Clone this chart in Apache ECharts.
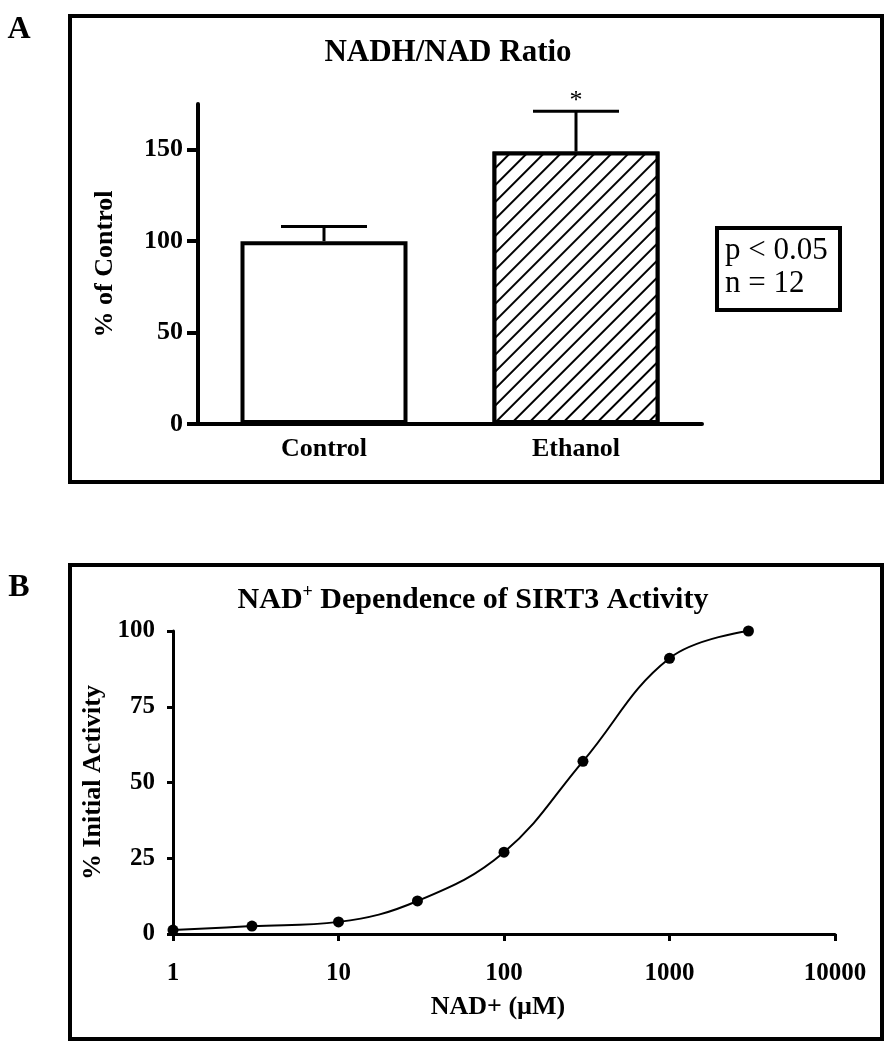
<!DOCTYPE html>
<html><head><meta charset="utf-8">
<script src="https://cdn.jsdelivr.net/npm/echarts@6/dist/echarts.min.js"></script>
<style>html,body{margin:0;padding:0;background:#fff}#c{width:891px;height:1050px}</style>
</head><body><div id="c"></div>
<script>
// ---- Panel A data ----
const groupsA = ['Control', 'Ethanol'];
const meanA = [100, 149];
const errTopA = [108, 171];
const starA = [0, 1];
const yTicksA = [0, 50, 100, 150];
// ---- Panel B data ----
const nadConc = [1, 3, 10, 30, 100, 300, 1000, 3000];
const activity = [1.3, 2.6, 4.0, 10.9, 27, 57, 91, 100];
const yTicksB = [0, 25, 50, 75, 100];

const FF = '"Liberation Serif", "Times New Roman", serif';
const chart = echarts.init(document.getElementById('c'), null, {renderer: 'canvas', width: 891, height: 1050});

const errData = groupsA.map((g, i) => [i, meanA[i], errTopA[i], starA[i]]);

function txt(x, y, text, font, align, valign) {
  return {type: 'text', x: x, y: y, z: 100, style: {text: text, font: font, fill: '#000',
    align: align, textAlign: align, verticalAlign: valign, textVerticalAlign: valign}};
}

const option = {
  animation: false,
  backgroundColor: '#fff',
  grid: [
    {left: 198, top: 104, width: 504, height: 320},
    {left: 173, top: 631, width: 662, height: 303}
  ],
  xAxis: [
    {gridIndex: 0, type: 'category', data: groupsA,
     axisLine: {lineStyle: {color: '#000', width: 4}},
     axisTick: {alignWithLabel: true, length: 9, lineStyle: {color: '#000', width: 4}},
     axisLabel: {color: '#000', fontFamily: FF, fontWeight: 'bold', fontSize: 26, margin: 12},
     splitLine: {show: false}},
    {gridIndex: 1, type: 'log', logBase: 10, min: 1, max: 10000,
     name: 'NAD+ (µM)', nameLocation: 'middle', nameGap: 60,
     nameTextStyle: {color: '#000', fontFamily: FF, fontWeight: 'bold', fontSize: 26, padding: [0, 12, 0, 0]},
     axisLine: {lineStyle: {color: '#000', width: 3}},
     axisTick: {length: 7, lineStyle: {color: '#000', width: 3}},
     minorTick: {show: false},
     axisLabel: {color: '#000', fontFamily: FF, fontWeight: 'bold', fontSize: 25, margin: 27,
       formatter: v => String(Math.round(v))},
     splitLine: {show: false}}
  ],
  yAxis: [
    {gridIndex: 0, type: 'value', min: 0, max: 175, interval: 25,
     name: '% of Control', nameLocation: 'middle', nameGap: 80,
     nameTextStyle: {color: '#000', fontFamily: FF, fontWeight: 'bold', fontSize: 26},
     axisLine: {show: true, lineStyle: {color: '#000', width: 4}},
     axisTick: {show: true, length: 11, customValues: yTicksA, lineStyle: {color: '#000', width: 4}},
     axisLabel: {color: '#000', fontFamily: FF, fontWeight: 'bold', fontSize: 26, margin: 15, customValues: yTicksA},
     splitLine: {show: false}},
    {gridIndex: 1, type: 'value', min: 0, max: 100, interval: 25,
     name: '% Initial Activity', nameLocation: 'middle', nameGap: 64,
     nameTextStyle: {color: '#000', fontFamily: FF, fontWeight: 'bold', fontSize: 26},
     axisLine: {show: true, lineStyle: {color: '#000', width: 3}},
     axisTick: {show: true, length: 6, lineStyle: {color: '#000', width: 3}},
     axisLabel: {color: '#000', fontFamily: FF, fontWeight: 'bold', fontSize: 25, margin: 18},
     splitLine: {show: false}}
  ],
  series: [
    {type: 'bar', xAxisIndex: 0, yAxisIndex: 0, barWidth: 167,
     data: [
       {value: meanA[0], itemStyle: {color: '#fff', borderColor: '#000', borderWidth: 4}},
       {value: meanA[1], itemStyle: {color: '#fff', borderColor: '#000', borderWidth: 4,
         decal: {symbol: 'rect', symbolSize: 1, dashArrayX: [1, 0], dashArrayY: [2, 9.5],
                 rotation: -Math.PI / 4, color: '#000', backgroundColor: '#fff'}}}
     ]},
    {type: 'custom', xAxisIndex: 0, yAxisIndex: 0, z: 5, data: errData,
     renderItem: function (params, api) {
       const i = api.value(0);
       const base = api.coord([i, api.value(1)]);
       const top = api.coord([i, api.value(2)]);
       const half = 43;
       const children = [
         {type: 'line', shape: {x1: base[0], y1: base[1], x2: top[0], y2: top[1]}, style: {stroke: '#000', lineWidth: 3}},
         {type: 'line', shape: {x1: top[0] - half, y1: top[1], x2: top[0] + half, y2: top[1]}, style: {stroke: '#000', lineWidth: 3}}
       ];
       if (api.value(3)) {
         children.push({type: 'text', x: top[0], y: top[1] + 3,
           style: {text: '*', font: '26px ' + FF, fill: '#000', align: 'center', textAlign: 'center',
                   verticalAlign: 'bottom', textVerticalAlign: 'bottom'}});
       }
       return {type: 'group', children: children};
     }},
    {type: 'line', xAxisIndex: 1, yAxisIndex: 1, smooth: 0.4,
     data: nadConc.map((c, i) => [c, activity[i]]),
     symbol: 'circle', symbolSize: 11,
     itemStyle: {color: '#000'},
     lineStyle: {color: '#000', width: 2}}
  ],
  graphic: [
    {type: 'rect', z: -1, shape: {x: 70, y: 16, width: 812, height: 466}, style: {fill: 'none', stroke: '#000', lineWidth: 4}},
    {type: 'rect', z: -1, shape: {x: 70, y: 565, width: 812, height: 474}, style: {fill: 'none', stroke: '#000', lineWidth: 4}},
    {type: 'rect', shape: {x: 717, y: 228, width: 123, height: 82}, style: {fill: '#fff', stroke: '#000', lineWidth: 4}},
    txt(725, 251, 'p < 0.05', '31px ' + FF, 'left', 'middle'),
    txt(725, 284, 'n = 12', '31px ' + FF, 'left', 'middle'),
    txt(19, 30, 'A', 'bold 32px ' + FF, 'center', 'middle'),
    txt(19, 588, 'B', 'bold 32px ' + FF, 'center', 'middle'),
    txt(448, 53, 'NADH/NAD Ratio', 'bold 31px ' + FF, 'center', 'middle'),
    {type: 'text', x: 473, y: 600, z: 100, style: {
      text: '{a|NAD}{s|+}{a| Dependence of SIRT3 Activity}',
      align: 'center', textAlign: 'center', verticalAlign: 'middle', textVerticalAlign: 'middle',
      fill: '#000',
      rich: {
        a: {font: 'bold 30px ' + FF, fill: '#000', color: '#000', lineHeight: 34},
        s: {font: 'bold 18px ' + FF, fill: '#000', color: '#000', verticalAlign: 'top', lineHeight: 20}
      }}}
  ]
};
chart.setOption(option);
</script>
</body></html>
